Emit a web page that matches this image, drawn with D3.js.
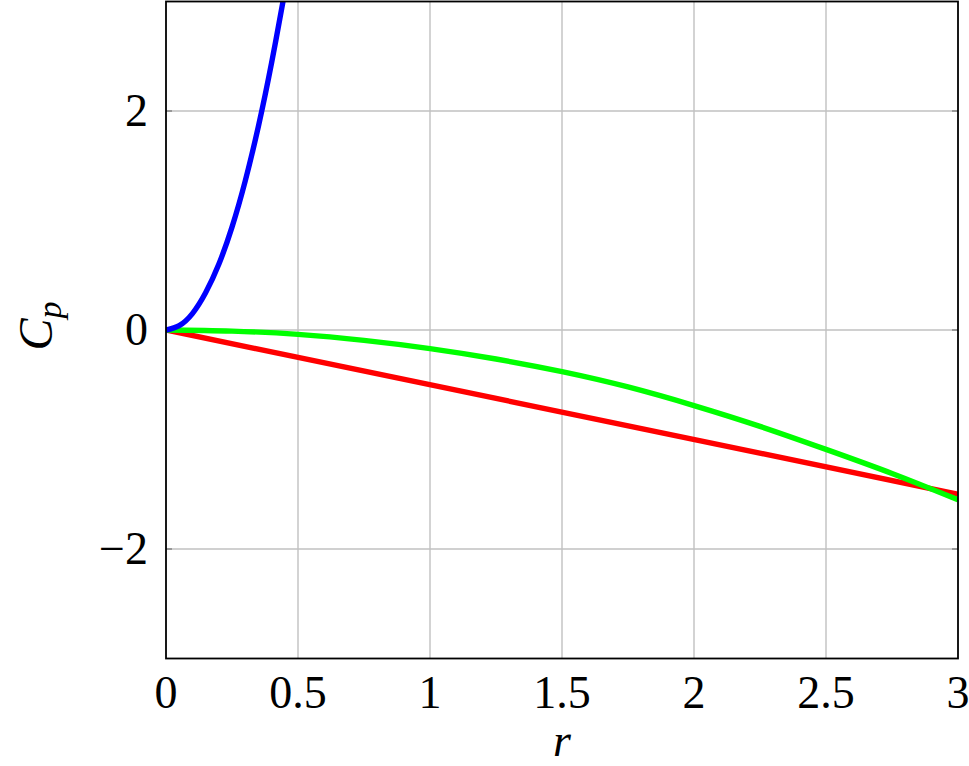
<!DOCTYPE html>
<html><head><meta charset="utf-8">
<script src="https://cdn.jsdelivr.net/npm/d3@7"></script>
<style>body{margin:0;background:#fff}svg{display:block}</style>
</head><body><svg id="c" width="969" height="766"></svg>
<script>
const xTicks = [0, 0.5, 1, 1.5, 2, 2.5, 3];
const xTickLabels = ["0", "0.5", "1", "1.5", "2", "2.5", "3"];
const yTicks = [-2, 0, 2];
const yTickLabels = ["\u22122", "0", "2"];
const blueR = [0, 0.05, 0.1, 0.15, 0.2, 0.25, 0.3, 0.35, 0.4, 0.45, 0.47];
const blueCp = [0, 0.04, 0.15, 0.34, 0.6, 0.94, 1.36, 1.86, 2.44, 3.09, 3.37];
const redR = [0, 3];
const redCp = [0, -1.5];
const greenR = [0, 0.25, 0.5, 0.75, 1, 1.25, 1.5, 1.75, 2, 2.25, 2.5, 2.75, 3];
const greenCp = [0, -0.01, -0.04, -0.095, -0.17, -0.265, -0.38, -0.52, -0.69, -0.88, -1.09, -1.31, -1.55];

const FONT = "'Liberation Serif', 'Times New Roman', serif";
const L = 166, R = 958, T = 1.5, B = 658.5;
const svg = d3.select("#c");
const x = d3.scaleLinear().domain([0, 3]).range([L, R]);
const y = d3.scaleLinear().domain([-3, 3]).range([B, T]);

svg.append("defs").append("clipPath").attr("id", "clip")
  .append("rect").attr("x", L).attr("y", T).attr("width", R - L).attr("height", B - T);

const g = svg.append("g");
g.selectAll(".gx").data(xTicks.slice(1, -1)).join("line")
  .attr("x1", d => x(d)).attr("x2", d => x(d)).attr("y1", T).attr("y2", B)
  .attr("stroke", "#c0c0c0").attr("stroke-width", 1.4);
g.selectAll(".gy").data(yTicks).join("line")
  .attr("y1", d => y(d)).attr("y2", d => y(d)).attr("x1", L).attr("x2", R)
  .attr("stroke", "#c0c0c0").attr("stroke-width", 1.4);
g.selectAll(".ty").data(yTicks).join("line")
  .attr("y1", d => y(d)).attr("y2", d => y(d)).attr("x1", L).attr("x2", L + 6)
  .attr("stroke", "#808080").attr("stroke-width", 1.4);
g.selectAll(".ty2").data(yTicks).join("line")
  .attr("y1", d => y(d)).attr("y2", d => y(d)).attr("x1", R - 6).attr("x2", R)
  .attr("stroke", "#808080").attr("stroke-width", 1.4);

const line = d3.line().x(d => x(d[0])).y(d => y(d[1]));
const plot = svg.append("g").attr("clip-path", "url(#clip)");
const series = [
  {r: redR, v: redCp, c: "#ff0000", curve: d3.curveLinear},
  {r: greenR, v: greenCp, c: "#00ff00", curve: d3.curveNatural},
  {r: blueR, v: blueCp, c: "#0000ff", curve: d3.curveNatural}
];
series.forEach(s => {
  plot.append("path").datum(s.r.map((r, i) => [r, s.v[i]]))
    .attr("d", line.curve(s.curve)).attr("fill", "none")
    .attr("stroke", s.c).attr("stroke-width", 5.4).attr("stroke-linejoin", "round");
});

svg.append("rect").attr("x", L).attr("y", T).attr("width", R - L).attr("height", B - T)
  .attr("fill", "none").attr("stroke", "#000").attr("stroke-width", 1.8);

svg.selectAll(".xl").data(xTicks).join("text")
  .attr("font-family", FONT)
  .attr("x", d => x(d)).attr("y", 708).attr("text-anchor", "middle")
  .attr("font-size", 46).text((d, i) => xTickLabels[i]);
svg.selectAll(".yl").data(yTicks).join("text")
  .attr("font-family", FONT)
  .attr("x", 148).attr("y", d => y(d) + 15).attr("text-anchor", "end")
  .attr("font-size", 46).text((d, i) => yTickLabels[i]);

svg.append("text").attr("font-family", FONT).attr("x", (L + R) / 2).attr("y", 756).attr("text-anchor", "middle")
  .attr("font-size", 46).attr("font-style", "italic").text("r");
const yl = svg.append("text").attr("font-family", FONT).attr("transform", "translate(52," + (y(0) - 4) + ") rotate(-90)")
  .attr("text-anchor", "middle").attr("font-size", 48).attr("font-style", "italic");
yl.append("tspan").text("C");
yl.append("tspan").attr("font-size", 34).attr("dy", 9).text("p");
</script></body></html>
